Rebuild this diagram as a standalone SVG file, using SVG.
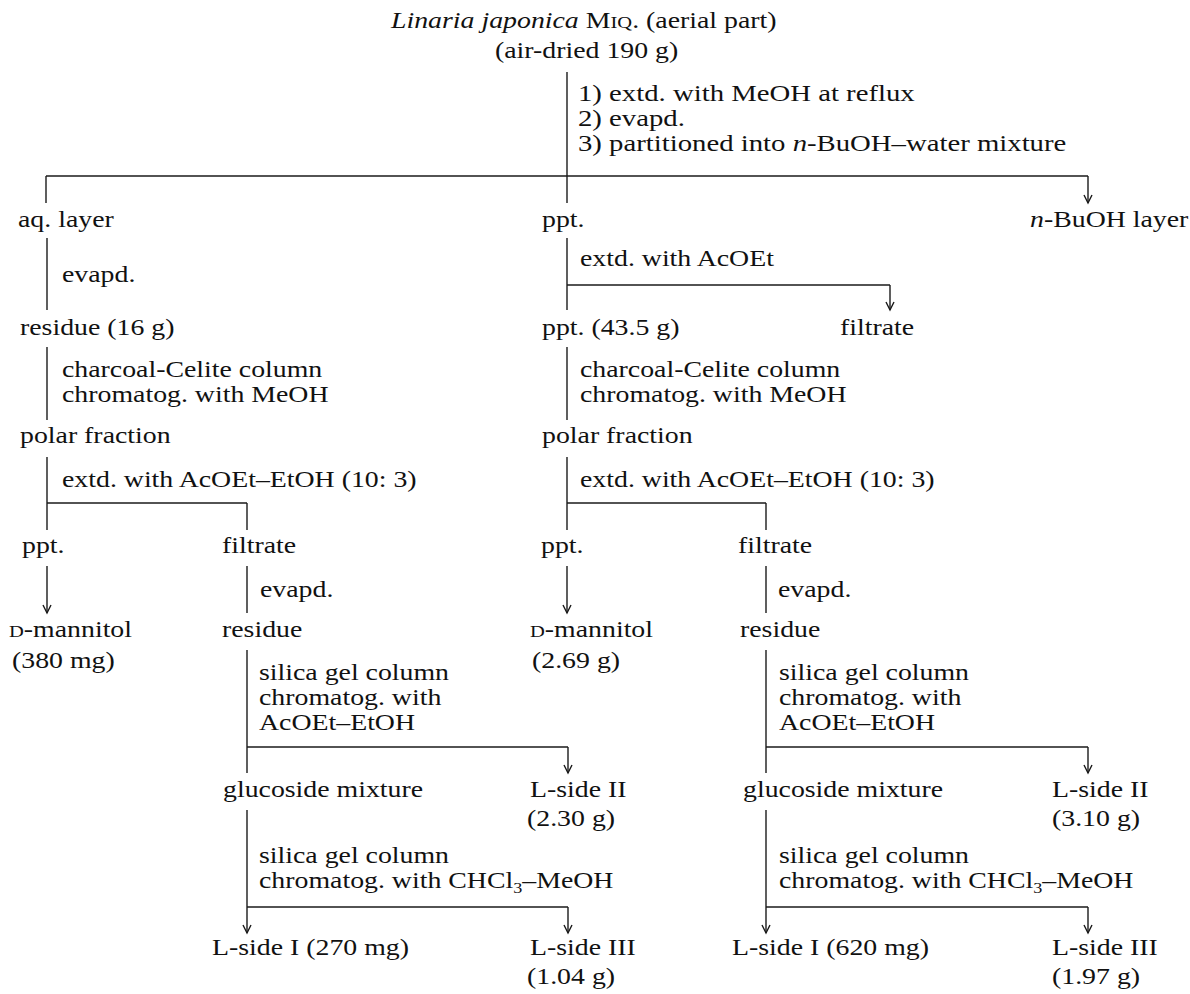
<svg xmlns="http://www.w3.org/2000/svg" width="1190" height="994" viewBox="0 0 1190 994">
<style>
text{font-family:"Liberation Serif","Times New Roman",serif;font-size:23px;fill:#111}
.it{font-style:italic}
.sc{font-size:17px}
.sub{font-size:15px}
.ln{stroke:#1a1a1a;stroke-width:1.4;fill:none}
.ar{stroke:#1a1a1a;stroke-width:1.4;fill:none;marker-end:url(#ah)}
</style>
<defs>
<marker id="ah" viewBox="-10 -6 12 12" refX="0" refY="0" markerWidth="12" markerHeight="12" markerUnits="userSpaceOnUse" orient="auto">
<path d="M-8,-4 L0,0 L-8,4" fill="none" stroke="#1a1a1a" stroke-width="1.4"/>
</marker>
</defs>
<rect width="1190" height="994" fill="#fff"/>

<g id="connectors">
<line class="ln" x1="567" y1="72" x2="567" y2="203"/>
<line class="ln" x1="46" y1="176" x2="1088" y2="176"/>
<line class="ln" x1="46" y1="176" x2="46" y2="203"/>
<line class="ar" x1="1088" y1="176" x2="1088" y2="203"/>
<line class="ln" x1="47" y1="238" x2="47" y2="310"/>
<line class="ln" x1="47" y1="347" x2="47" y2="420"/>
<line class="ln" x1="47" y1="457" x2="47" y2="530"/>
<line class="ln" x1="47" y1="503" x2="247" y2="503"/>
<line class="ln" x1="247" y1="503" x2="247" y2="530"/>
<line class="ar" x1="47" y1="566" x2="47" y2="613"/>
<line class="ln" x1="247" y1="566" x2="247" y2="613"/>
<line class="ln" x1="247" y1="650" x2="247" y2="773"/>
<line class="ln" x1="247" y1="747" x2="568" y2="747"/>
<line class="ar" x1="568" y1="747" x2="568" y2="773"/>
<line class="ln" x1="247" y1="810" x2="247" y2="907"/>
<line class="ln" x1="247" y1="907" x2="568" y2="907"/>
<line class="ar" x1="247" y1="907" x2="247" y2="933"/>
<line class="ar" x1="568" y1="907" x2="568" y2="933"/>
<line class="ln" x1="567" y1="238" x2="567" y2="310"/>
<line class="ln" x1="567" y1="285" x2="890" y2="285"/>
<line class="ar" x1="890" y1="285" x2="890" y2="310"/>
<line class="ln" x1="567" y1="347" x2="567" y2="420"/>
<line class="ln" x1="567" y1="457" x2="567" y2="530"/>
<line class="ln" x1="567" y1="503" x2="766" y2="503"/>
<line class="ln" x1="766" y1="503" x2="766" y2="530"/>
<line class="ar" x1="567" y1="566" x2="567" y2="613"/>
<line class="ln" x1="766" y1="566" x2="766" y2="613"/>
<line class="ln" x1="766" y1="650" x2="766" y2="773"/>
<line class="ln" x1="766" y1="747" x2="1088" y2="747"/>
<line class="ar" x1="1088" y1="747" x2="1088" y2="773"/>
<line class="ln" x1="766" y1="810" x2="766" y2="907"/>
<line class="ln" x1="766" y1="907" x2="1088" y2="907"/>
<line class="ar" x1="766" y1="907" x2="766" y2="933"/>
<line class="ar" x1="1088" y1="907" x2="1088" y2="933"/>
</g>

<g id="step-labels">
<text transform="translate(578 101) scale(1.25 1)">1) extd. with MeOH at reflux</text>
<text transform="translate(578 126) scale(1.25 1)">2) evapd.</text>
<text transform="translate(578 151) scale(1.25 1)">3) partitioned into <tspan class="it">n</tspan>-BuOH–water mixture</text>
<text transform="translate(62 282) scale(1.21 1)">evapd.</text>
<text transform="translate(62 377) scale(1.21 1)">charcoal-Celite column</text>
<text transform="translate(62 402) scale(1.21 1)">chromatog. with MeOH</text>
<text transform="translate(62 487) scale(1.21 1)">extd. with AcOEt–EtOH (10: 3)</text>
<text transform="translate(260 597) scale(1.21 1)">evapd.</text>
<text transform="translate(259 680) scale(1.21 1)">silica gel column</text>
<text transform="translate(259 705) scale(1.21 1)">chromatog. with</text>
<text transform="translate(259 730) scale(1.21 1)">AcOEt–EtOH</text>
<text transform="translate(259 863) scale(1.21 1)">silica gel column</text>
<text transform="translate(259 888) scale(1.21 1)">chromatog. with CHCl<tspan class="sub" dy="5">3</tspan><tspan dy="-5">–MeOH</tspan></text>
<text transform="translate(580 266) scale(1.21 1)">extd. with AcOEt</text>
<text transform="translate(580 377) scale(1.21 1)">charcoal-Celite column</text>
<text transform="translate(580 402) scale(1.21 1)">chromatog. with MeOH</text>
<text transform="translate(580 487) scale(1.21 1)">extd. with AcOEt–EtOH (10: 3)</text>
<text transform="translate(778 597) scale(1.21 1)">evapd.</text>
<text transform="translate(779 680) scale(1.21 1)">silica gel column</text>
<text transform="translate(779 705) scale(1.21 1)">chromatog. with</text>
<text transform="translate(779 730) scale(1.21 1)">AcOEt–EtOH</text>
<text transform="translate(779 863) scale(1.21 1)">silica gel column</text>
<text transform="translate(779 888) scale(1.21 1)">chromatog. with CHCl<tspan class="sub" dy="5">3</tspan><tspan dy="-5">–MeOH</tspan></text>
</g>

<g id="start">
<text transform="translate(391 28) scale(1.21 1)"><tspan class="it">Linaria japonica</tspan> M<tspan class="sc">IQ</tspan>. (aerial part)</text>
<text transform="translate(495 58) scale(1.21 1)">(air-dried 190 g)</text>
</g>
<g id="aq-layer"><text transform="translate(18 227) scale(1.21 1)">aq. layer</text></g>
<g id="ppt-1"><text transform="translate(542 227) scale(1.21 1)">ppt.</text></g>
<g id="buoh-layer"><text transform="translate(1030 227) scale(1.21 1)"><tspan class="it">n</tspan>-BuOH layer</text></g>

<g id="residue-16"><text transform="translate(20 335) scale(1.21 1)">residue (16 g)</text></g>
<g id="polar-left"><text transform="translate(20 443) scale(1.21 1)">polar fraction</text></g>
<g id="ppt-left"><text transform="translate(22 553) scale(1.21 1)">ppt.</text></g>
<g id="filtrate-left"><text transform="translate(222 553) scale(1.21 1)">filtrate</text></g>
<g id="mannitol-left"><text transform="translate(9 637) scale(1.21 1)"><tspan class="sc">D</tspan>-mannitol</text><text transform="translate(12 668) scale(1.21 1)">(380 mg)</text></g>
<g id="residue-left"><text transform="translate(222 637) scale(1.21 1)">residue</text></g>
<g id="glucoside-left"><text transform="translate(223 797) scale(1.21 1)">glucoside mixture</text></g>
<g id="lside2-left"><text transform="translate(530 797) scale(1.21 1)">L-side II</text><text transform="translate(527 826) scale(1.21 1)">(2.30 g)</text></g>
<g id="lside1-left"><text transform="translate(212 955) scale(1.21 1)">L-side I (270 mg)</text></g>
<g id="lside3-left"><text transform="translate(530 955) scale(1.21 1)">L-side III</text><text transform="translate(527 984) scale(1.21 1)">(1.04 g)</text></g>

<g id="ppt-43"><text transform="translate(542 335) scale(1.21 1)">ppt. (43.5 g)</text></g>
<g id="filtrate-mid"><text transform="translate(840 335) scale(1.21 1)">filtrate</text></g>
<g id="polar-right"><text transform="translate(542 443) scale(1.21 1)">polar fraction</text></g>
<g id="ppt-right"><text transform="translate(541 553) scale(1.21 1)">ppt.</text></g>
<g id="filtrate-right"><text transform="translate(738 553) scale(1.21 1)">filtrate</text></g>
<g id="mannitol-right"><text transform="translate(530 637) scale(1.21 1)"><tspan class="sc">D</tspan>-mannitol</text><text transform="translate(532 668) scale(1.21 1)">(2.69 g)</text></g>
<g id="residue-right"><text transform="translate(740 637) scale(1.21 1)">residue</text></g>
<g id="glucoside-right"><text transform="translate(743 797) scale(1.21 1)">glucoside mixture</text></g>
<g id="lside2-right"><text transform="translate(1052 797) scale(1.21 1)">L-side II</text><text transform="translate(1052 826) scale(1.21 1)">(3.10 g)</text></g>
<g id="lside1-right"><text transform="translate(732 955) scale(1.21 1)">L-side I (620 mg)</text></g>
<g id="lside3-right"><text transform="translate(1052 955) scale(1.21 1)">L-side III</text><text transform="translate(1052 984) scale(1.21 1)">(1.97 g)</text></g>
</svg>
